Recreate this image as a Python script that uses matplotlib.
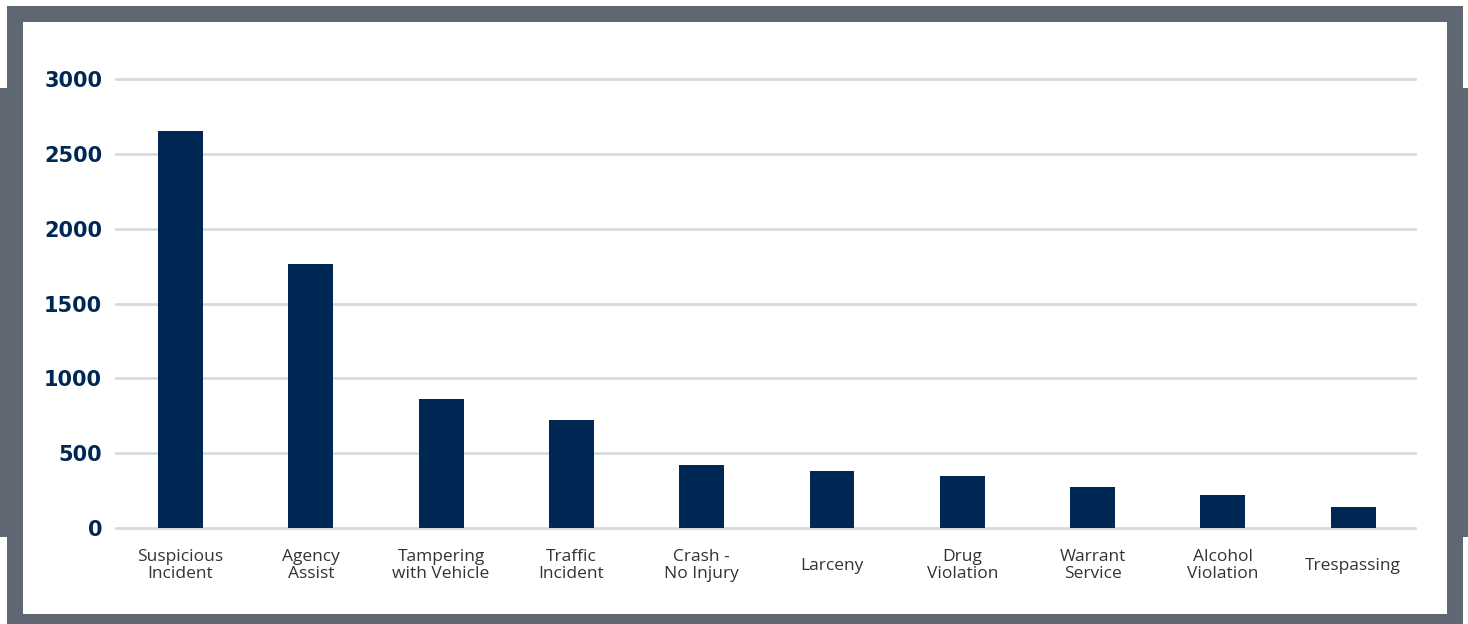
import matplotlib
matplotlib.use('Agg')
import matplotlib.pyplot as plt
from matplotlib.patches import Rectangle

# 데이터
categories = ['Suspicious\nIncident', 'Agency\nAssist', 'Tampering\nwith Vehicle',
              'Traffic\nIncident', 'Crash -\nNo Injury', 'Larceny', 'Drug\nViolation',
              'Warrant\nService', 'Alcohol\nViolation', 'Trespassing']
counts = [2650, 1765, 862, 721, 421, 381, 347, 274, 220, 140]
y_ticks = [0, 500, 1000, 1500, 2000, 2500, 3000]

W, H = 1468, 624
navy = '#002855'
frame = '#5e6772'

fig = plt.figure(figsize=(W / 100, H / 100), dpi=100)
fig.patch.set_facecolor('white')


def px_rect(x0, y0, x1, y1, color):
    # 픽셀 좌표(위에서부터) -> figure 비율
    fig.patches.append(Rectangle((x0 / W, 1 - y1 / H), (x1 - x0) / W, (y1 - y0) / H,
                                 transform=fig.transFigure, facecolor=color,
                                 edgecolor='none', zorder=-5))


# 테두리
px_rect(7, 6, 1463, 624, frame)
px_rect(0, 88, 23, 537, frame)
px_rect(1447, 88, 1468, 537, frame)
px_rect(23, 22, 1447, 614, 'white')

ax = fig.add_axes([116 / W, 1 - 528 / H, (1415 - 116) / W, (528 - 79) / H])
ax.set_zorder(2)
ax.set_facecolor('none')

x = list(range(len(categories)))
ax.bar(x, counts, width=0.345, color=navy, zorder=3)

for t in y_ticks:
    ax.axhline(t, color='#d9dadd', linewidth=2, zorder=1, clip_on=False)

ax.set_xlim(-0.495, 9.474)
ax.set_ylim(0, 3000)
ax.set_yticks(y_ticks)
ax.set_yticklabels([str(t) for t in y_ticks], fontfamily='DejaVu Sans',
                   fontweight='bold', fontsize=15, color=navy)
ax.set_xticks(x)
ax.set_xticklabels(categories, fontfamily='Open Sans', fontsize=12.5, color='#333333',
                   linespacing=1.1)
for lbl in ax.get_xticklabels():
    lbl.set_verticalalignment('center')
ax.tick_params(axis='x', length=0, pad=27)
ax.tick_params(axis='y', length=0, pad=10)
for s in ax.spines.values():
    s.set_visible(False)

plt.savefig('out.png', dpi=100)
plt.close()
